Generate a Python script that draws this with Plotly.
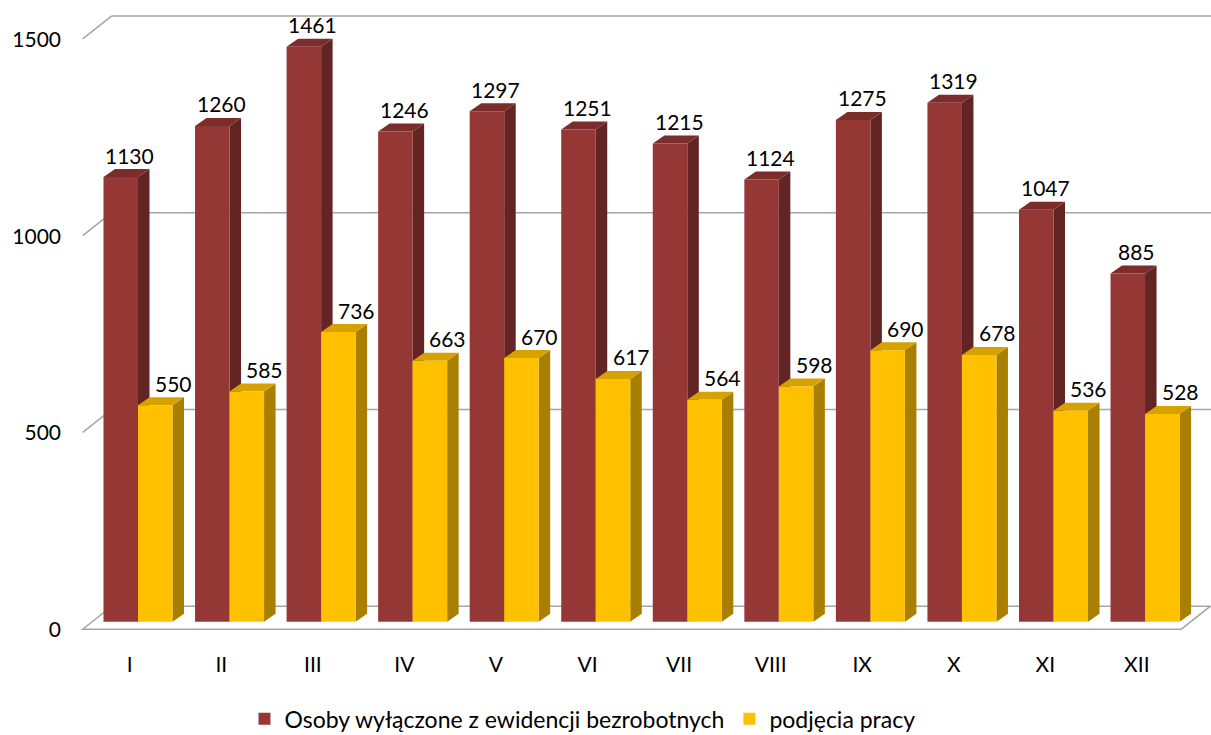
import plotly.graph_objects as go

months = ["I", "II", "III", "IV", "V", "VI", "VII", "VIII", "IX", "X", "XI", "XII"]
removed = [1130, 1260, 1461, 1246, 1297, 1251, 1215, 1124, 1275, 1319, 1047, 885]
jobs = [550, 585, 736, 663, 670, 617, 564, 598, 690, 678, 536, 528]
yticks = [0, 500, 1000, 1500]

name_removed = "Osoby wyłączone z ewidencji bezrobotnych"
name_jobs = "podjęcia pracy"

FONT = "Lato"
RED, RED_SIDE, RED_TOP = "#953735", "#632523", "#7a2d2b"
YEL, YEL_SIDE, YEL_TOP = "#ffc000", "#a87f00", "#d6a200"
GRID = "#a6a6a6"

# pixel scales of the chart (px per data unit)
PX_X = 91.55
PX_Y = 0.3935
W, H = 1211, 735
ML, MB = 64, 95
X0 = -(138 - ML) / PX_X
X1 = X0 + (W - ML) / PX_X
Y1 = 621.7 / PX_Y
Y0 = -(H - MB - 621.7) / PX_Y

BW = 0.377                      # bar width
DX, DY = 11.5 / PX_X, 8 / PX_Y  # bar depth
FX, FY = -9.5 / PX_X, -7.5 / PX_Y   # front edge of floor
BX, BY = 19.5 / PX_X, 15.5 / PX_Y   # back wall
LEFT, RIGHT = -0.5, 11.5

idx = list(range(len(months)))

fig = go.Figure()
fig.add_trace(go.Bar(x=idx, y=removed, width=BW, offset=-BW, name=name_removed,
                     marker=dict(color=RED, line=dict(width=0))))
fig.add_trace(go.Bar(x=idx, y=jobs, width=BW, offset=0, name=name_jobs,
                     marker=dict(color=YEL, line=dict(width=0))))

shapes = []
# floor
shapes.append(dict(type="path", xref="x", yref="y", layer="below",
                   path=f"M{LEFT+FX},{FY} L{RIGHT+FX},{FY} L{RIGHT+BX},{BY} L{LEFT+BX},{BY} Z",
                   fillcolor="white", line=dict(color=GRID, width=1.5)))
# back wall grid + left wall diagonals
for v in yticks[1:]:
    shapes.append(dict(type="line", xref="x", yref="y", layer="below",
                       x0=LEFT + FX, y0=v + FY, x1=LEFT + BX, y1=v + BY,
                       line=dict(color=GRID, width=1.5)))
    shapes.append(dict(type="line", xref="x", yref="y", layer="below",
                       x0=LEFT + BX, y0=v + BY, x1=X1 + 1, y1=v + BY,
                       line=dict(color=GRID, width=1.5)))


def faces(x0, v, side, top):
    x1 = x0 + BW
    s = dict(type="path", xref="x", yref="y", layer="below", line=dict(width=0),
             fillcolor=side,
             path=f"M{x1},0 L{x1},{v} L{x1+DX},{v+DY} L{x1+DX},{DY} Z")
    t = dict(type="path", xref="x", yref="y", layer="below", line=dict(width=0),
             fillcolor=top,
             path=f"M{x0},{v} L{x1},{v} L{x1+DX},{v+DY} L{x0+DX},{v+DY} Z")
    return [s, t]


for i in idx:
    shapes += faces(i - BW, removed[i], RED_SIDE, RED_TOP)
    shapes += faces(i, jobs[i], YEL_SIDE, YEL_TOP)

annotations = []
for i in idx:
    annotations.append(dict(x=i - 0.09, y=removed[i], text=str(removed[i]), showarrow=False,
                            yshift=22, yanchor="middle", font=dict(family=FONT, size=21, color="black")))
    annotations.append(dict(x=i + 0.385, y=jobs[i], text=str(jobs[i]), showarrow=False,
                            yshift=22, yanchor="middle", font=dict(family=FONT, size=21, color="black")))

fig.update_layout(
    width=W, height=H,
    margin=dict(l=ML, r=0, t=0, b=MB, autoexpand=False),
    plot_bgcolor="white", paper_bgcolor="white",
    barmode="overlay",
    shapes=shapes,
    annotations=annotations,
    font=dict(family=FONT, size=21, color="black"),
    showlegend=True,
    legend=dict(orientation="h", xref="container", yref="container",
                x=0.481, y=0.022, xanchor="center", yanchor="middle",
                font=dict(family=FONT, size=23), traceorder="normal"),
    hovermode=False,
)
fig.update_xaxes(range=[X0, X1], tickvals=[i - 0.09 for i in idx], ticktext=months,
                 showgrid=False, zeroline=False, showline=False, ticks="",
                 ticklabelstandoff=10, automargin=False)
fig.update_yaxes(range=[Y0, Y1], tickvals=yticks, showgrid=False, zeroline=False,
                 showline=False, ticks="", ticklabelshift=8, ticklabelstandoff=2,
                 automargin=False)

fig.write_html("out.html", config={"displayModeBar": False},
               post_script="document.body.style.margin='0';")
